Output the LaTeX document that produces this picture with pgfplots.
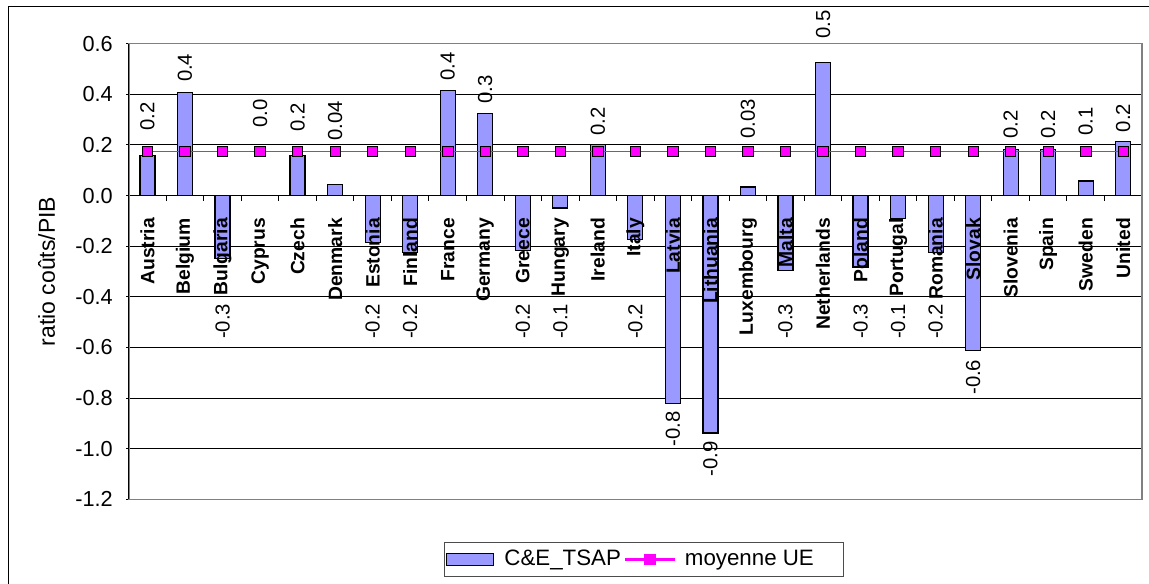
\documentclass[border=0pt]{standalone}
\usepackage{pgfplots}
\usepackage{pgfplotstable}
\pgfplotsset{compat=1.18}
\usepackage{fontspec}
\setmainfont{Liberation Sans}
\definecolor{barblue}{HTML}{9999FF}
\definecolor{magentaUE}{HTML}{FF00FF}
\definecolor{bordergray}{HTML}{808080}

\pgfplotsset{
  mybar legend/.style={legend image code/.code={\draw[fill=barblue, draw=black, line width=0.6pt] (0pt,-3pt) rectangle (23.5pt,3pt);}},
  myline legend/.style={legend image code/.code={\fill[magentaUE] (0pt,-0.4pt) rectangle (24.5pt,0.4pt); \fill[magentaUE] (9.65pt,-2.6pt) rectangle (14.85pt,2.6pt);}},
  common/.style={
    at={(64.35pt,41.8pt)}, anchor=south west,
    scale only axis, width=506.65pt, height=227.9pt,
    clip=false,
    xmin=-0.5, xmax=26.5,
    ymin=-1.2, ymax=0.6,
    axis x line=middle,
    xtick={0,...,26},
    every major x tick/.append style={draw=none},
    minor tick length=2.5pt,
    major tick length=2.5pt,
    xtick align=outside, ytick align=outside,
  },
}

\pgfplotstableread{
x v
0 0.159
1 0.407
2 -0.248
3 0.0
4 0.159
5 0.045
6 -0.185
7 -0.225
8 0.415
9 0.325
10 -0.218
11 -0.049
12 0.200
13 -0.174
14 -0.820
15 -0.938
16 0.034
17 -0.295
18 0.526
19 -0.282
20 -0.091
21 -0.225
22 -0.613
23 0.181
24 0.181
25 0.057
26 0.213
}\datatsap

\pgfplotstableread{
x v
0 0.174
1 0.174
2 0.174
3 0.174
4 0.174
5 0.174
6 0.174
7 0.174
8 0.174
9 0.174
10 0.174
11 0.174
12 0.174
13 0.174
14 0.174
15 0.174
16 0.174
17 0.174
18 0.174
19 0.174
20 0.174
21 0.174
22 0.174
23 0.174
24 0.174
25 0.174
26 0.174
}\datamoy

\pgfplotstableread{
x y lab
0 0.254 0.2
1 0.447 0.4
3 0.266 0.0
4 0.250 0.2
5 0.216 0.04
8 0.453 0.4
9 0.361 0.3
12 0.236 0.2
16 0.222 0.03
18 0.618 0.5
23 0.222 0.2
24 0.222 0.2
25 0.236 0.1
26 0.249 0.2
}\labpos

\pgfplotstableread{
x y lab
2 -0.426 -0.3
6 -0.426 -0.2
7 -0.426 -0.2
10 -0.426 -0.2
11 -0.426 -0.1
13 -0.426 -0.2
14 -0.851 -0.8
15 -0.970 -0.9
17 -0.426 -0.3
19 -0.426 -0.3
20 -0.426 -0.1
21 -0.426 -0.2
22 -0.647 -0.6
}\labneg

\begin{document}
\begin{tikzpicture}
\useasboundingbox (0,0) rectangle (574.5pt,291.5pt);
\fill[white] (0,0) rectangle (574.5pt,291.5pt);
\draw[line width=0.75pt] (4.25pt,-2pt) -- (4.25pt,288.15pt) -- (580pt,288.15pt);
\begin{axis}[
  common,
  axis y line=left,
  axis line style={-, black, line width=0.5pt},
  xticklabels={},
  minor x tick num=1,
  every minor x tick/.append style={black, line width=0.5pt},
  every major y tick/.append style={black, line width=0.5pt},
  ytick={-1.2,-1.0,...,0.6},
  /pgf/number format/assume math mode=true,
  yticklabel style={/pgf/number format/fixed, /pgf/number format/fixed zerofill, /pgf/number format/precision=1, font=\fontsize{10.85}{12}\selectfont, xshift=-3.2pt},
  ymajorgrids,
  grid style={black, line width=0.5pt},
  ylabel={ratio coûts/PIB},
  every axis y label/.style={at={(axis description cs:-0.0809,0.5)}, rotate=90, anchor=center, font=\fontsize{11.5}{13}\selectfont},
  legend columns=2,
  legend style={at={(0.5086,-0.1314)}, anchor=center, draw=black!70, line width=0.5pt,
    font=\fontsize{11.15}{13}\selectfont, inner xsep=1pt, inner ysep=2pt,
    /tikz/every even column/.append style={column sep=0pt},
    /tikz/every odd column/.append style={column sep=3pt}},
]
\addplot[ybar, bar width=7.5pt, fill=barblue, draw=black, line width=0.6pt, mybar legend]
  table[x=x,y=v] {\datatsap};
\addlegendentry{C\&E\_TSAP}
% mean line (0.174) drawn as a thin filled band, about 1.4 px thick
\addplot[forget plot, fill=magentaUE, draw=none, mark=none]
  coordinates {(0,0.1712) (26,0.1712) (26,0.1768) (0,0.1768)};
\addplot[only marks, mark=square*, mark size=2.6pt, mark options={fill=magentaUE, draw=none}, myline legend]
  table[x=x,y=v] {\datamoy};
\addlegendentry{moyenne UE\kern 12pt}
\addplot[forget plot, draw=none, mark=none, nodes near coords, point meta=explicit symbolic,
  nodes near coords style={rotate=90, anchor=west, inner sep=0pt, black, font=\fontsize{10.15}{12}\selectfont}]
  table[x=x,y=y,meta=lab] {\labpos};
\addplot[forget plot, draw=none, mark=none, nodes near coords, point meta=explicit symbolic,
  nodes near coords style={rotate=90, anchor=east, inner sep=0pt, black, font=\fontsize{10.15}{12}\selectfont}]
  table[x=x,y=y,meta=lab] {\labneg};
\draw[bordergray, line width=0.8pt] (rel axis cs:0,0) rectangle (rel axis cs:1,1);
\draw[black, line width=0.5pt] (rel axis cs:0,0) -- (rel axis cs:0,1);
\end{axis}
\begin{axis}[
  common,
  axis y line=none,
  axis line style={draw=none},
  ytick=\empty,
  minor x tick num=0,
  xticklabels={Austria,Belgium,Bulgaria,Cyprus,Czech,Denmark,Estonia,Finland,France,Germany,Greece,Hungary,Ireland,Italy,Latvia,Lithuania,Luxembourg,Malta,Netherlands,Poland,Portugal,Romania,Slovak,Slovenia,Spain,Sweden,United},
  xticklabel style={rotate=90, anchor=east, inner sep=0pt, font=\fontsize{9.65}{11}\selectfont\bfseries},
  xticklabel shift=8.6pt,
]
\end{axis}
\end{tikzpicture}
\end{document}
